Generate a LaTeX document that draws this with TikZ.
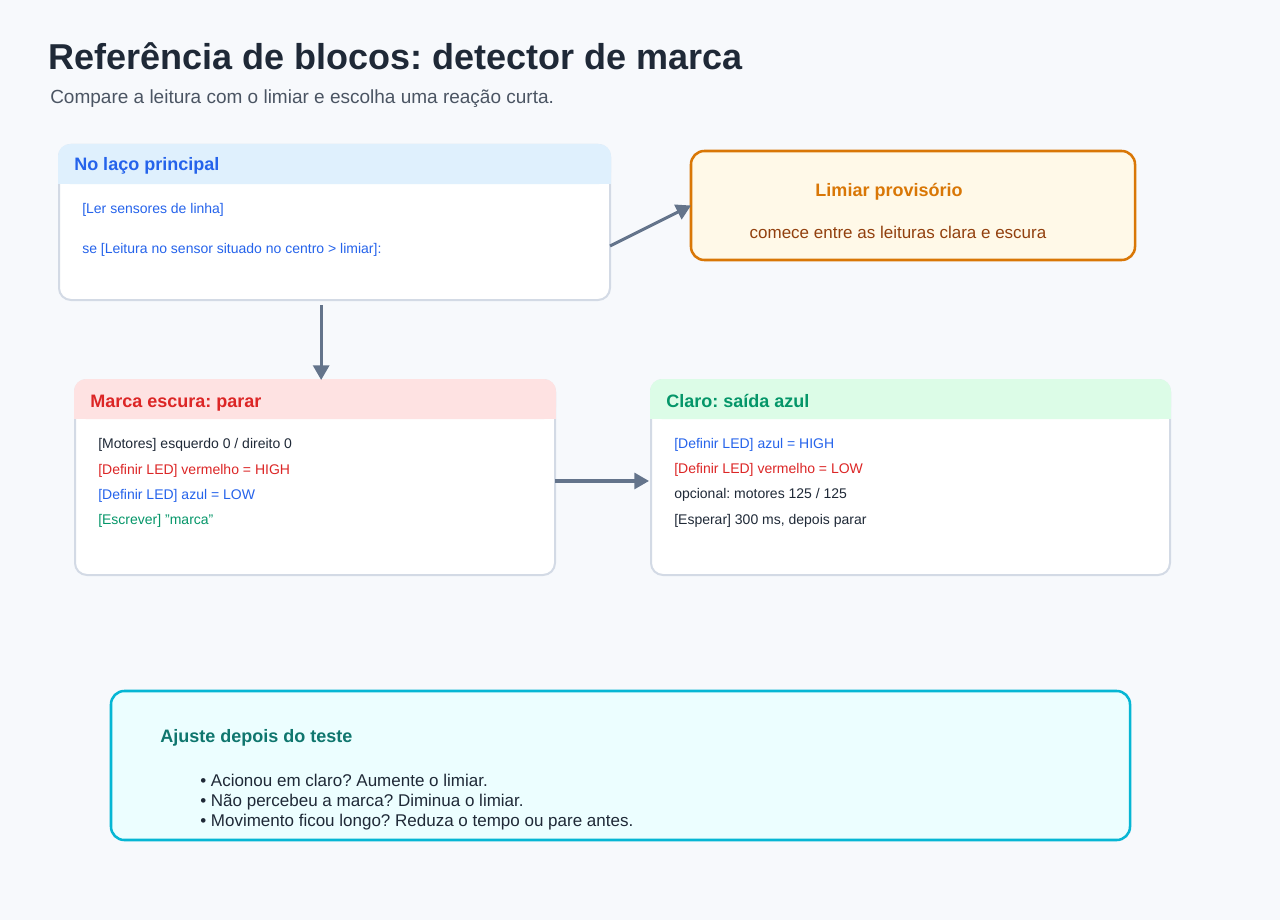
\documentclass[tikz,border=0pt]{standalone}
\usepackage{fontspec}
\setmainfont{Liberation Sans}
\usetikzlibrary{arrows.meta,calc}
\frenchspacing
\definecolor{bg}{HTML}{F7F9FC}
\definecolor{titlec}{HTML}{1F2937}
\definecolor{subc}{HTML}{4B5563}
\definecolor{pborder}{HTML}{D3DAE5}
\definecolor{arrowc}{HTML}{64748B}
\definecolor{blue}{HTML}{2563EB}
\definecolor{red}{HTML}{DC2626}
\definecolor{green}{HTML}{059669}
\definecolor{dark}{HTML}{1F2937}
\definecolor{hblue}{HTML}{DFF0FD}
\definecolor{hred}{HTML}{FEE2E2}
\definecolor{hgreen}{HTML}{DCFCE7}
\definecolor{orange}{HTML}{D97706}
\definecolor{cream}{HTML}{FFF9E8}
\definecolor{brown}{HTML}{92400E}
\definecolor{cyan}{HTML}{06B6D4}
\definecolor{lcyan}{HTML}{ECFEFF}
\definecolor{teal}{HTML}{0F766E}
\begin{document}
\begin{tikzpicture}[x=0.75pt,y=-0.75pt,
  panel/.style={draw=pborder, line width=1.5pt, fill=white, rounded corners=9pt, anchor=north west, inner sep=0pt, outer sep=0pt},
  note/.style={line width=1.9pt, rounded corners=10pt, anchor=north west, inner sep=0pt, outer sep=0pt},
  txt/.style={anchor=base west, inner sep=0pt},
  ctxt/.style={anchor=base, inner sep=0pt},
  hdr/.style={txt, font=\fontsize{13.5}{16}\selectfont\bfseries},
  body/.style={txt, font=\fontsize{10.5}{13}\selectfont},
  big/.style={font=\fontsize{12.75}{15}\selectfont},
  arrow/.style={draw=arrowc, line width=2.3pt, -{Triangle[length=11pt,width=12pt]}}
]
\useasboundingbox (0,0) rectangle (1280,920);
\fill[bg] (0,0) rectangle (1280,920);

% title
\node[txt, font=\fontsize{27}{32}\selectfont\bfseries, text=titlec] (title) at (48,70) {Referência de blocos: detector de marca};
\node[txt, font=\fontsize{14.25}{17}\selectfont, text=subc] (subtitle) at (50,104) {Compare a leitura com o limiar e escolha uma reação curta.};

% main loop panel
\node[panel, minimum width=551*0.75pt, minimum height=155*0.75pt] (main) at (59,145) {};
\fill[hblue, rounded corners=9pt] (58,144) rectangle (611,184);
\fill[hblue] (58,166) rectangle (611,184);
\node[hdr, text=blue] (mainh) at (74,171) {No laço principal};
\node[body, text=blue] (m1) at (82,213) {[Ler sensores de linha]};
\node[body, text=blue] (m2) at (82,253) {se [Leitura no sensor situado no centro > limiar]:};

% limiar note
\node[note, draw=orange, fill=cream, minimum width=444*0.75pt, minimum height=109*0.75pt] (limiar) at (691,151) {};
\node[ctxt, font=\fontsize{13.5}{16}\selectfont\bfseries, text=orange] (limh) at (889,196) {Limiar provisório};
\node[ctxt, big, text=brown] (limt) at (898,238) {comece entre as leituras clara e escura};

% marca escura panel
\node[panel, minimum width=480*0.75pt, minimum height=195*0.75pt] (mark) at (75,380) {};
\fill[hred, rounded corners=9pt] (74,379) rectangle (556,419);
\fill[hred] (74,400) rectangle (556,419);
\node[hdr, text=red] (markh) at (90,407) {Marca escura: parar};
\node[body, text=dark] (k1) at (98,448) {[Motores] esquerdo 0 / direito 0};
\node[body, text=red] (k2) at (98,474) {[Definir LED] vermelho = HIGH};
\node[body, text=blue] (k3) at (98,499) {[Definir LED] azul = LOW};
\node[body, text=green] (k4) at (98,524) {[Escrever] \symbol{34}marca\symbol{34}};

% claro panel
\node[panel, minimum width=519*0.75pt, minimum height=195*0.75pt] (claro) at (651,380) {};
\fill[hgreen, rounded corners=9pt] (650,379) rectangle (1171,419);
\fill[hgreen] (650,400) rectangle (1171,419);
\node[hdr, text=green] (claroh) at (666,407) {Claro: saída azul};
\node[body, text=blue] (c1) at (674,448) {[Definir LED] azul = HIGH};
\node[body, text=red] (c2) at (674,473) {[Definir LED] vermelho = LOW};
\node[body, text=dark] (c3) at (674,498) {opcional: motores 125 / 125};
\node[body, text=dark] (c4) at (674,524) {[Esperar] 300 ms, depois parar};

% ajuste note
\node[note, draw=cyan, fill=lcyan, minimum width=1019*0.75pt, minimum height=149*0.75pt] (ajuste) at (111,691) {};
\node[txt, font=\fontsize{13.5}{16}\selectfont\bfseries, text=teal] (ajh) at (160,742) {Ajuste depois do teste};
\node[txt, big, text=dark] (a1) at (200,786) {• Acionou em claro? Aumente o limiar.};
\node[txt, big, text=dark] (a2) at (200,806) {• Não percebeu a marca? Diminua o limiar.};
\node[txt, big, text=dark] (a3) at (200,826) {• Movimento ficou longo? Reduza o tempo ou pare antes.};

% connectors
\draw[arrow] ([yshift=-17.6pt]main.east) -- (limiar.west);
\draw[arrow] ([xshift=-10pt,yshift=-3.75pt]main.south) -- ([xshift=-10pt]main.south |- mark.north);
\draw[arrow] ([yshift=-2.6pt]mark.east) -- ([yshift=-2.6pt,xshift=-1.5pt]claro.west);
\end{tikzpicture}
\end{document}
